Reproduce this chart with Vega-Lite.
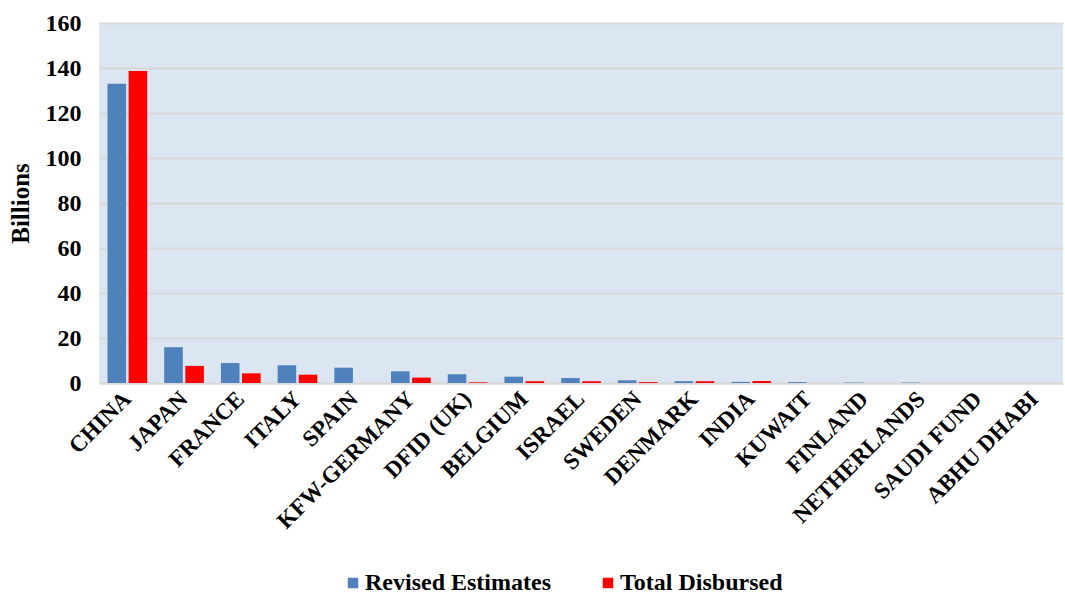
{
  "$schema": "https://vega.github.io/schema/vega-lite/v6.json",
  "width": 964,
  "height": 360,
  "autosize": "none",
  "padding": {"left": 99, "top": 23, "right": 2, "bottom": 211},
  "background": "white",
  "data": {"values": [
    {"country": "CHINA", "series": "Revised Estimates", "value": 133},
    {"country": "CHINA", "series": "Total Disbursed", "value": 138.7},
    {"country": "JAPAN", "series": "Revised Estimates", "value": 15.9},
    {"country": "JAPAN", "series": "Total Disbursed", "value": 7.6},
    {"country": "FRANCE", "series": "Revised Estimates", "value": 8.9},
    {"country": "FRANCE", "series": "Total Disbursed", "value": 4.3},
    {"country": "ITALY", "series": "Revised Estimates", "value": 7.9},
    {"country": "ITALY", "series": "Total Disbursed", "value": 3.7},
    {"country": "SPAIN", "series": "Revised Estimates", "value": 6.8},
    {"country": "SPAIN", "series": "Total Disbursed", "value": 0},
    {"country": "KFW-GERMANY", "series": "Revised Estimates", "value": 5.2},
    {"country": "KFW-GERMANY", "series": "Total Disbursed", "value": 2.4},
    {"country": "DFID (UK)", "series": "Revised Estimates", "value": 3.9},
    {"country": "DFID (UK)", "series": "Total Disbursed", "value": 0.3},
    {"country": "BELGIUM", "series": "Revised Estimates", "value": 2.8},
    {"country": "BELGIUM", "series": "Total Disbursed", "value": 0.8},
    {"country": "ISRAEL", "series": "Revised Estimates", "value": 2.2},
    {"country": "ISRAEL", "series": "Total Disbursed", "value": 0.8},
    {"country": "SWEDEN", "series": "Revised Estimates", "value": 1.2},
    {"country": "SWEDEN", "series": "Total Disbursed", "value": 0.4},
    {"country": "DENMARK", "series": "Revised Estimates", "value": 0.8},
    {"country": "DENMARK", "series": "Total Disbursed", "value": 0.8},
    {"country": "INDIA", "series": "Revised Estimates", "value": 0.5},
    {"country": "INDIA", "series": "Total Disbursed", "value": 0.9},
    {"country": "KUWAIT", "series": "Revised Estimates", "value": 0.4},
    {"country": "KUWAIT", "series": "Total Disbursed", "value": 0},
    {"country": "FINLAND", "series": "Revised Estimates", "value": 0.2},
    {"country": "FINLAND", "series": "Total Disbursed", "value": 0},
    {"country": "NETHERLANDS", "series": "Revised Estimates", "value": 0.2},
    {"country": "NETHERLANDS", "series": "Total Disbursed", "value": 0},
    {"country": "SAUDI FUND", "series": "Revised Estimates", "value": 0},
    {"country": "SAUDI FUND", "series": "Total Disbursed", "value": 0},
    {"country": "ABHU DHABI", "series": "Revised Estimates", "value": 0},
    {"country": "ABHU DHABI", "series": "Total Disbursed", "value": 0}
  ]},
  "mark": {"type": "bar"},
  "encoding": {
    "x": {
      "field": "country", "type": "nominal", "sort": null,
      "scale": {"paddingInner": 0.3, "paddingOuter": 0.15},
      "axis": {
        "title": null, "labelAngle": -45, "labelAlign": "right", "labelBaseline": "middle",
        "labelFont": "Liberation Serif", "labelFontSize": 23, "labelFontWeight": "bold",
        "labelColor": "black", "ticks": false, "labelPadding": 12,
        "domainColor": "#d9d9d9", "domainWidth": 2, "grid": false, "labelLimit": 400
      }
    },
    "xOffset": {"field": "series", "type": "nominal", "scale": {"paddingInner": 0.12}},
    "y": {
      "field": "value", "type": "quantitative",
      "scale": {"domain": [0, 160], "nice": false},
      "axis": {
        "title": "Billions", "titleFont": "Liberation Serif", "titleFontSize": 25,
        "titleFontWeight": "bold", "titleColor": "black", "titlePadding": 12,
        "values": [0, 20, 40, 60, 80, 100, 120, 140, 160],
        "labelFont": "Liberation Serif", "labelFontSize": 24, "labelFontWeight": "bold",
        "labelColor": "black", "ticks": false, "domain": false, "labelPadding": 18,
        "gridColor": "#d9d9d9", "gridWidth": 2
      }
    },
    "color": {
      "field": "series", "type": "nominal",
      "scale": {"domain": ["Revised Estimates", "Total Disbursed"], "range": ["#4f81bd", "#ff0000"]},
      "legend": {
        "title": null, "orient": "none", "legendX": 242, "legendY": 548, "direction": "horizontal",
        "symbolType": "square", "symbolSize": 110, "symbolStrokeWidth": 0, "symbolOffset": 0,
        "labelFont": "Liberation Serif", "labelFontSize": 24, "labelFontWeight": "bold",
        "labelColor": "black", "columnPadding": 45, "labelLimit": 300, "labelOffset": 0
      }
    }
  },
  "config": {
    "view": {"fill": "#dce6f2", "stroke": null}
  }
}
